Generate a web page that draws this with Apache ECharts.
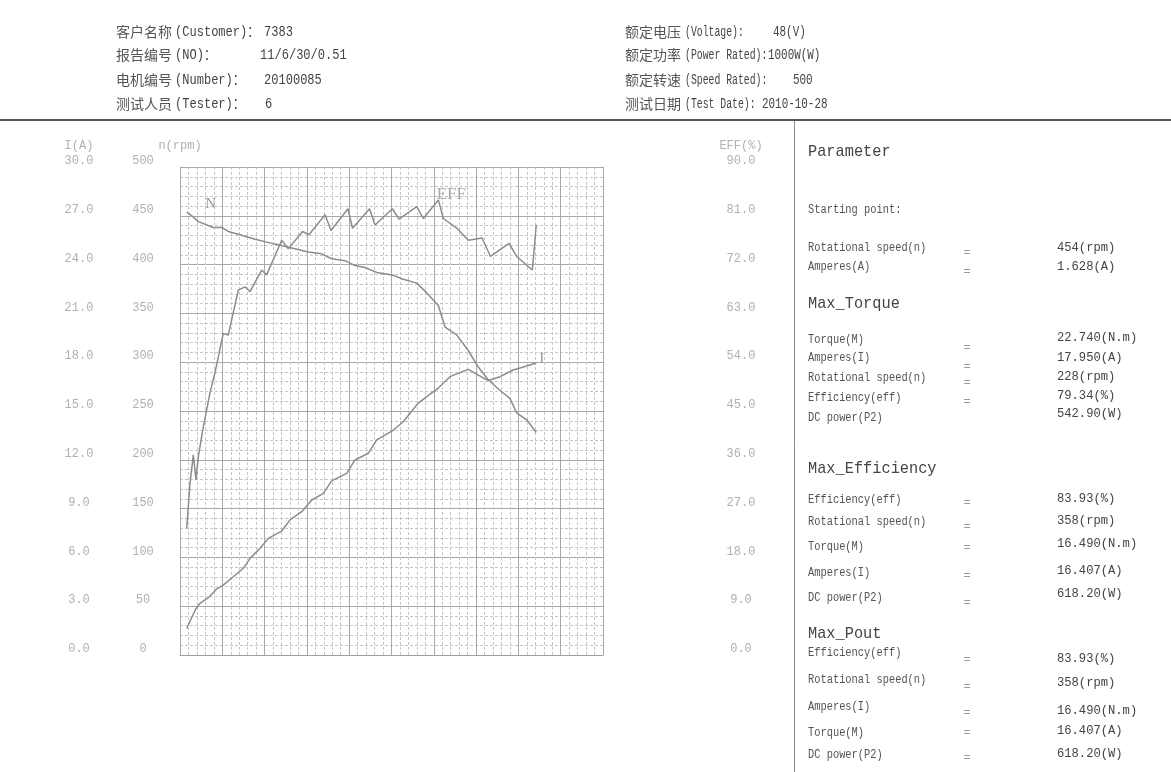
<!DOCTYPE html>
<html>
<head>
<meta charset="utf-8">
<script src="https://cdn.jsdelivr.net/npm/echarts@6/dist/echarts.min.js"></script>
<style>html,body{margin:0;padding:0;background:#fff}#c{width:1171px;height:772px}</style>
</head>
<body>
<div id="c"></div>
<script>
// ---------- data (x = torque, N.m) ----------
const torqueN = [0.43,0.75,1.17,2.13,2.66,3.08,3.94,4.79,6.06,7.13,8.19,9.04,9.68,10.53,11.17,11.81,12.56,13.62,14.25,15.11,15.75,16.49,16.92,17.66,18.40,19.04,19.68,20.43,21.06,21.49,22.13,22.74];
const speedN  = [454,450,444,438,438,434,430,426,421,417,413,411,406,404,399,397,392,389,385,381,371,358,336,328,312,295,282,271,263,248,241,228];

const torqueEff = [0.43,0.64,0.85,1.02,1.17,1.49,1.91,2.23,2.76,3.08,3.72,4.15,4.47,5.21,5.53,6.49,6.91,7.82,8.23,9.26,9.64,10.72,11.01,12.10,12.45,13.56,13.98,15.11,15.53,16.49,16.81,17.68,18.40,19.28,19.82,21.00,21.49,22.49,22.74];
const effVal    = [23.4,31.7,36.9,32.3,36.6,42.1,48.3,52.0,59.3,59.0,67.3,67.9,67.0,71.0,70.1,76.5,74.9,78.1,77.5,81.2,78.3,82.3,78.7,82.3,79.3,82.3,80.4,82.7,80.5,83.93,80.5,78.7,76.5,76.9,73.5,75.9,73.5,71.0,79.34];

const torqueI  = [0.43,1.00,1.28,1.81,2.34,2.76,3.40,4.04,4.47,5.11,5.64,6.49,7.02,7.77,8.41,9.15,9.68,10.64,11.17,12.02,12.56,13.62,14.25,15.21,15.75,16.49,17.23,18.40,19.04,19.68,20.43,21.27,22.13,22.74];
const currentI = [1.628,2.83,3.18,3.52,4.06,4.30,4.81,5.33,5.94,6.56,7.17,7.62,8.30,8.81,9.53,9.94,10.70,11.17,11.99,12.40,13.22,13.83,14.34,15.49,15.88,16.41,17.11,17.56,17.21,16.87,17.11,17.52,17.77,17.95];

const torqueMax = 27, speedMax = 500, currentMax = 30, effMax = 90;

// ---------- texts ----------
const headLeftCn  = ['客户名称','报告编号','电机编号','测试人员'];
const headLeftEn  = ['(Customer)：','(NO)：','(Number)：','(Tester)：'];
const headLeftVal = ['7383','11/6/30/0.51','20100085','6'];
const headRightCn  = ['额定电压','额定功率','额定转速','测试日期'];
const headRightEn  = ['(Voltage):','(Power Rated):','(Speed Rated):','(Test Date):'];
const headRightVal = ['48(V)','1000W(W)','500','2010-10-28'];

const titles = ['Parameter','Max_Torque','Max_Efficiency','Max_Pout'];
const startTitle = 'Starting point:';
const startLabels = ['Rotational speed(n)','Amperes(A)'];
const startValues = ['454(rpm)','1.628(A)'];
const torqueLabels = ['Torque(M)','Amperes(I)','Rotational speed(n)','Efficiency(eff)','DC power(P2)'];
const torqueValues = ['22.740(N.m)','17.950(A)','228(rpm)','79.34(%)','542.90(W)'];
const effLabels = ['Efficiency(eff)','Rotational speed(n)','Torque(M)','Amperes(I)','DC power(P2)'];
const effValues = ['83.93(%)','358(rpm)','16.490(N.m)','16.407(A)','618.20(W)'];
const poutLabels = ['Efficiency(eff)','Rotational speed(n)','Amperes(I)','Torque(M)','DC power(P2)'];
const poutValues = ['83.93(%)','358(rpm)','16.490(N.m)','16.407(A)','618.20(W)'];

// ---------- layout ----------
const headY = [32, 55, 80, 104];
const L = {
  titleY: [151, 303, 468, 633], startY: 210,
  startLab: [248, 267], startVal: [247, 266], startEq: [253, 272],
  tqLab: [340, 358, 378, 398, 418], tqVal: [337, 357, 376, 395, 413], tqEq: [348, 367, 383, 402],
  efLab: [500, 522, 547, 573, 598], efVal: [498, 520, 543, 570, 593], efEq: [503, 527, 548, 576, 603],
  poLab: [653, 680, 707, 733, 755], poVal: [658, 682, 710, 730, 753], poEq: [660, 687, 713, 733, 758]
};
const MONO = '"Liberation Mono", "Noto Sans CJK SC", monospace';
const CJK = '"Noto Sans CJK SC", sans-serif';

function txt(x, y, text, size, family, fill, sx, align) {
  return {
    type: 'text', x: x, y: y, scaleX: sx || 1, silent: true,
    style: { text: text, font: size + 'px ' + family, fill: fill,
      textAlign: align || 'left', textVerticalAlign: 'middle',
      align: align || 'left', verticalAlign: 'middle' }
  };
}

const g = [];
g.push({ type: 'line', silent: true, shape: { x1: 0, y1: 120, x2: 1171, y2: 120 }, style: { stroke: '#555', lineWidth: 2 } });
g.push({ type: 'line', silent: true, shape: { x1: 794.5, y1: 121, x2: 794.5, y2: 772 }, style: { stroke: '#8a8a8a', lineWidth: 1 } });

const headLeftValX = [264, 260, 264, 265];
const headRightValX = [773, 768, 793, 762];
for (let i = 0; i < 4; i++) {
  g.push(txt(116, headY[i], headLeftCn[i], 14, CJK, '#555'));
  g.push(txt(175, headY[i], headLeftEn[i], 14, MONO, '#444', 0.86));
  g.push(txt(headLeftValX[i], headY[i], headLeftVal[i], 14, MONO, '#444', 0.86));
  g.push(txt(625, headY[i], headRightCn[i], 14, CJK, '#555'));
  g.push(txt(685, headY[i], headRightEn[i], 14, MONO, '#444', 0.7));
  g.push(txt(headRightValX[i], headY[i], headRightVal[i], 14, MONO, '#444', 0.78));
}

const PX = 808, EQX = 967, VX = 1057;
for (let i = 0; i < titles.length; i++) g.push(txt(PX, L.titleY[i], titles[i], 17, MONO, '#444', 0.9));
g.push(txt(PX, L.startY, startTitle, 12.5, MONO, '#555', 0.83));
function section(labels, values, ly, vy, ey) {
  for (let i = 0; i < labels.length; i++) {
    g.push(txt(PX, ly[i], labels[i], 12.5, MONO, '#555', 0.83));
    g.push(txt(VX, vy[i], values[i], 13.5, MONO, '#444', 0.9));
  }
  for (let i = 0; i < ey.length; i++) g.push(txt(EQX, ey[i], '=', 12, MONO, '#999', 1, 'center'));
}
section(startLabels, startValues, L.startLab, L.startVal, L.startEq);
section(torqueLabels, torqueValues, L.tqLab, L.tqVal, L.tqEq);
section(effLabels, effValues, L.efLab, L.efVal, L.efEq);
section(poutLabels, poutValues, L.poLab, L.poVal, L.poEq);

// ---------- chart ----------
const axisLabelStyle = { color: '#b0b0b0', fontFamily: '"Liberation Mono", monospace', fontSize: 12 };
function sideAxis(name, max, interval, pos, offset, fmt, grid) {
  return {
    type: 'value', min: 0, max: max, interval: interval, position: pos, offset: offset,
    name: name, nameLocation: 'end', nameGap: 21,
    nameTextStyle: Object.assign({ align: 'center', verticalAlign: 'middle' }, axisLabelStyle),
    axisLine: { show: false }, axisTick: { show: false },
    axisLabel: Object.assign({ show: true, align: 'center', verticalAlign: 'bottom', margin: 0, formatter: fmt }, axisLabelStyle),
    splitLine: { show: grid, lineStyle: { color: '#a8a8a8', width: 1 } },
    minorTick: { show: grid, splitNumber: 5, length: 0 },
    minorSplitLine: { show: grid, lineStyle: { color: '#c6c6c6', width: 1, type: [3, 2] } }
  };
}
const effPeak = effVal.indexOf(Math.max.apply(null, effVal));
const lineColor = '#8c8c8c';
const option = {
  animation: false,
  backgroundColor: '#fff',
  graphic: { elements: g },
  grid: { left: 180, top: 167, width: 423, height: 488 },
  xAxis: {
    type: 'value', min: 0, max: torqueMax, interval: torqueMax / 10,
    axisLabel: { show: false }, axisTick: { show: false },
    axisLine: { show: true, onZero: false, lineStyle: { color: '#a0a0a0', width: 1 } },
    splitLine: { show: true, lineStyle: { color: '#a8a8a8', width: 1 } },
    minorTick: { show: true, splitNumber: 5, length: 0 },
    minorSplitLine: { show: true, lineStyle: { color: '#c6c6c6', width: 1, type: [3, 2] } }
  },
  yAxis: [
    sideAxis('n(rpm)', speedMax, speedMax / 10, 'left', 37, v => String(v), true),
    sideAxis('I(A)', currentMax, currentMax / 10, 'left', 101, v => v.toFixed(1), false),
    sideAxis('EFF(%)', effMax, effMax / 10, 'right', 138, v => v.toFixed(1), false)
  ],
  series: [
    {
      name: 'N', type: 'line', yAxisIndex: 0, symbol: 'none', silent: true,
      data: torqueN.map((t, i) => [t, speedN[i]]),
      lineStyle: { color: lineColor, width: 1.5 },
      markPoint: { symbol: 'circle', symbolSize: 0, silent: true,
        data: [{ coord: [torqueN[0], speedN[0]] }],
        label: { show: true, formatter: 'N', offset: [24, -8], color: '#999', fontFamily: '"Liberation Serif", serif', fontSize: 15 } }
    },
    {
      name: 'EFF', type: 'line', yAxisIndex: 2, symbol: 'none', silent: true,
      data: torqueEff.map((t, i) => [t, effVal[i]]),
      lineStyle: { color: lineColor, width: 1.5 },
      markPoint: { symbol: 'circle', symbolSize: 0, silent: true,
        data: [{ coord: [torqueEff[effPeak], effVal[effPeak]] }],
        label: { show: true, formatter: 'EFF', offset: [13, -5], color: '#aaa', fontFamily: '"Liberation Serif", serif', fontSize: 17 } }
    },
    {
      name: 'I', type: 'line', yAxisIndex: 1, symbol: 'none', silent: true,
      data: torqueI.map((t, i) => [t, currentI[i]]),
      lineStyle: { color: lineColor, width: 1.5 },
      endLabel: { show: true, formatter: 'I', distance: 3, offset: [0, -4], color: '#999', fontFamily: '"Liberation Serif", serif', fontSize: 15 }
    }
  ]
};
const chart = echarts.init(document.getElementById('c'), null, { renderer: 'canvas' });
chart.setOption(option);
</script>
</body>
</html>
